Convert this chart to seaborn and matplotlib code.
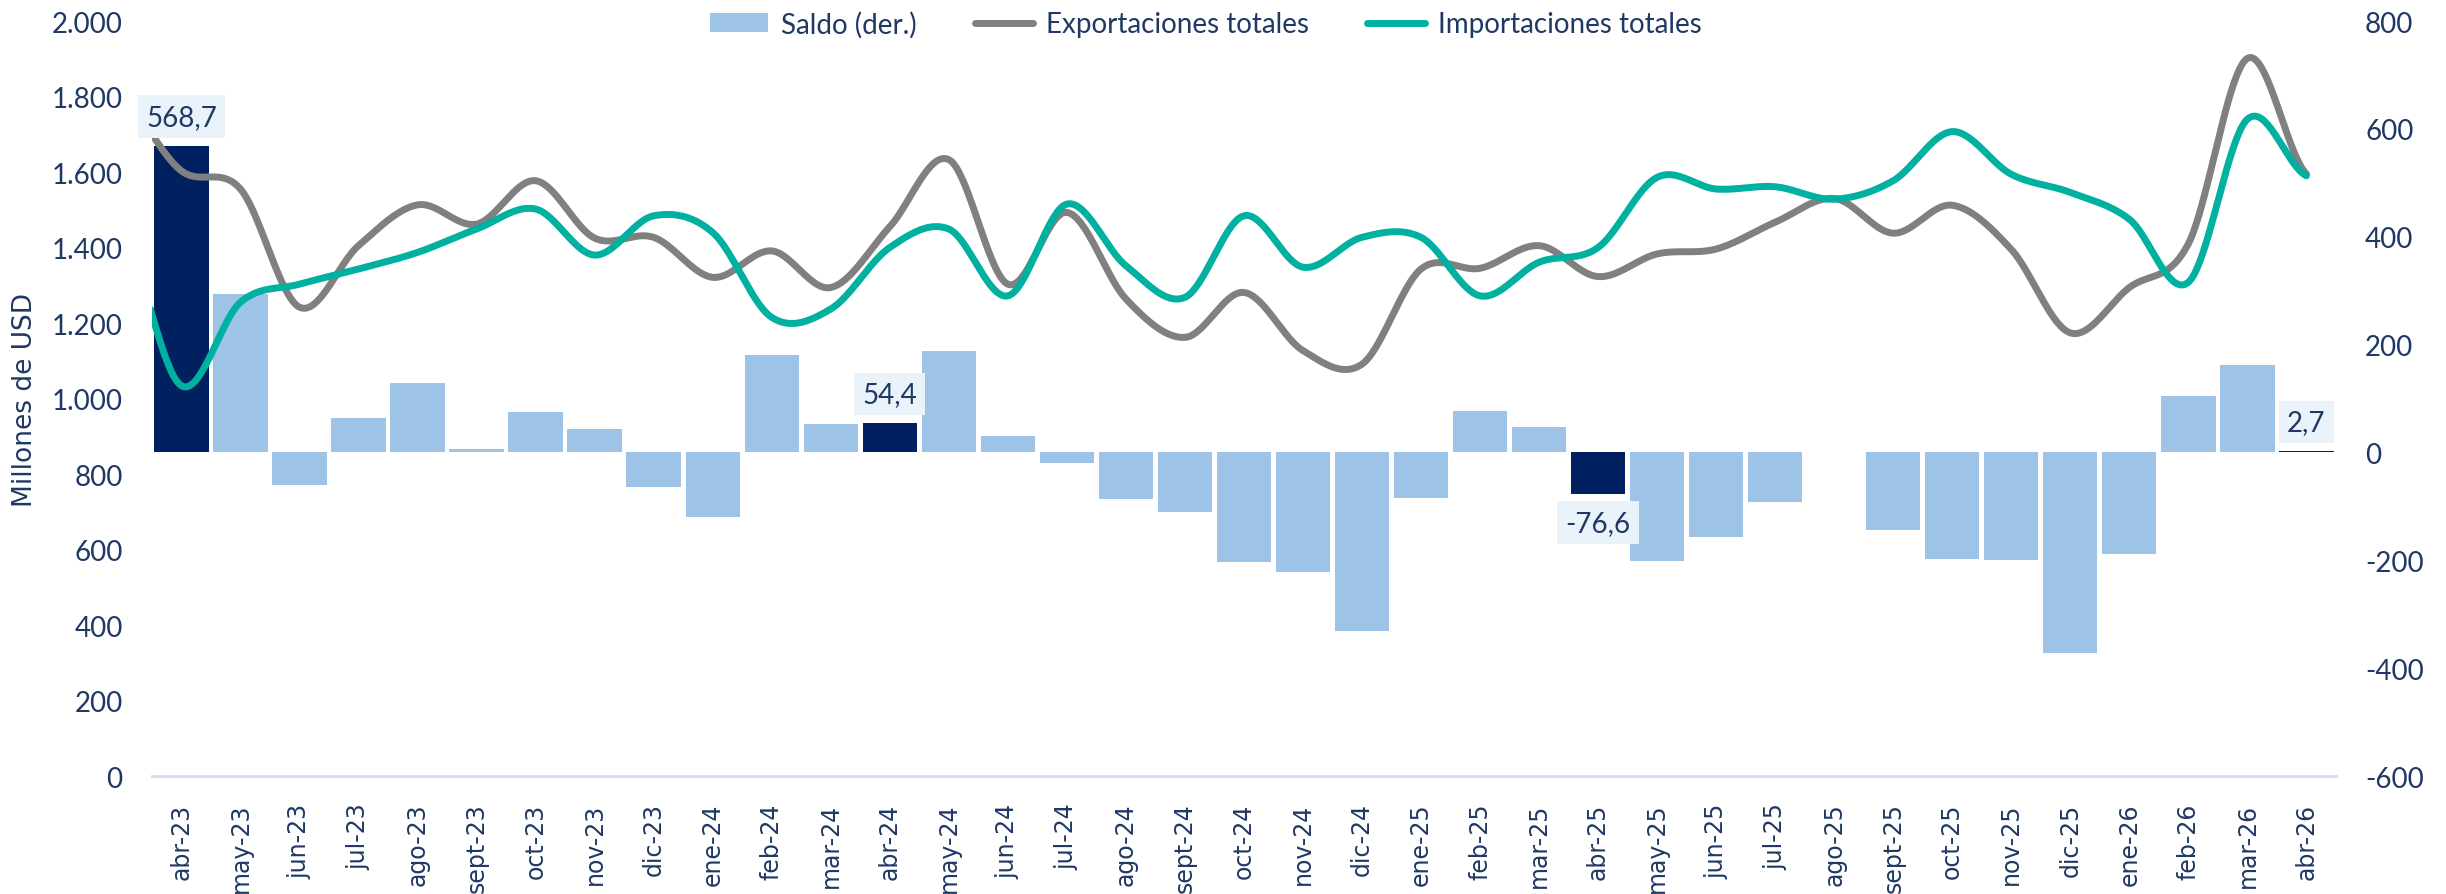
import numpy as np
import pandas as pd
import matplotlib
matplotlib.use("Agg")
import matplotlib.pyplot as plt
from matplotlib.lines import Line2D
from matplotlib.patches import Patch
from matplotlib.ticker import FuncFormatter, MultipleLocator
import seaborn as sns

sns.set_style("white")
plt.rcParams["font.family"] = ["Lato", "DejaVu Sans"]

meses = [
	"abr-23", "may-23", "jun-23", "jul-23", "ago-23", "sept-23", "oct-23", "nov-23", "dic-23",
	"ene-24", "feb-24", "mar-24", "abr-24", "may-24", "jun-24", "jul-24", "ago-24", "sept-24",
	"oct-24", "nov-24", "dic-24", "ene-25", "feb-25", "mar-25", "abr-25", "may-25", "jun-25",
	"jul-25", "ago-25", "sept-25", "oct-25", "nov-25", "dic-25", "ene-26", "feb-26", "mar-26",
	"abr-26",
]
saldo = [
	568.7, 293, -60, 63, 128, 7, 75, 44, -64,
	-119, 180, 52, 54.4, 189, 31, -19, -86, -111,
	-204, -221, -331, -85, 76, 48, -76.6, -202, -157,
	-91, 1, -143, -197, -199, -372, -188, 104, 163,
	2.7,
]
exportaciones = [
	1603, 1555, 1242, 1405, 1513, 1462, 1577, 1425, 1427,
	1321, 1391, 1294, 1455, 1633, 1303, 1493, 1264, 1162,
	1281, 1127, 1091, 1343, 1345, 1405, 1323, 1383, 1396,
	1467, 1530, 1438, 1512, 1395, 1174, 1294, 1410, 1901,
	1595,
]
importaciones = [
	1034, 1255, 1303, 1343, 1387, 1449, 1502, 1380, 1484,
	1440, 1215, 1237, 1400, 1449, 1272, 1515, 1352, 1268,
	1484, 1348, 1427, 1427, 1272, 1361, 1400, 1586, 1555,
	1561, 1528, 1577, 1707, 1594, 1546, 1475, 1308, 1740,
	1590,
]
# mar-23 queda fuera del rango, solo marca por donde entran las curvas
export_mar23 = 1790
import_mar23 = 1440

destacados = ["abr-23", "abr-24", "abr-25", "abr-26"]

NAVY = "#002060"
CELESTE = "#9DC3E6"
GRIS = "#808080"
TEAL = "#00B0A0"
TEXTO = "#1F3864"
CAJA = "#EAF2FA"
EJE = "#D3DDF0"


def suavizar(y, pasos=40):
	# linea suavizada tipo Excel (Catmull-Rom)
	y = np.asarray(y, dtype=float)
	ext = np.concatenate([[y[0]], y, [y[-1]]])
	t = np.linspace(0, 1, pasos, endpoint=False)
	xs, ys = [], []
	for i in range(len(y) - 1):
		p0, p1, p2, p3 = ext[i:i + 4]
		m1 = (p2 - p0) / 2
		m2 = (p3 - p1) / 2
		h00 = 2 * t**3 - 3 * t**2 + 1
		h10 = t**3 - 2 * t**2 + t
		h01 = -2 * t**3 + 3 * t**2
		h11 = t**3 - t**2
		ys.append(h00 * p1 + h10 * m1 + h01 * p2 + h11 * m2)
		xs.append(i + t)
	xs.append([len(y) - 1])
	ys.append([y[-1]])
	return np.concatenate(xs), np.concatenate(ys)


df = pd.DataFrame({"mes": meses, "saldo": saldo})
colores = [NAVY if m in destacados else CELESTE for m in meses]

fig = plt.figure(figsize=(24.46, 8.95), dpi=100)
ax = fig.add_axes([0.0621, 0.1318, 0.8929, 0.8436])

sns.barplot(
	data=df, x="mes", y="saldo", hue="mes", palette=colores, legend=False,
	width=0.92, saturation=1, linewidth=0, ax=ax
)

ax2 = ax.twinx()
ax.yaxis.tick_right()
ax.yaxis.set_label_position("right")
ax2.yaxis.tick_left()
ax2.yaxis.set_label_position("left")

for serie, previo, color in [
	(exportaciones, export_mar23, GRIS),
	(importaciones, import_mar23, TEAL),
]:
	xs, ys = suavizar([previo] + serie)
	sns.lineplot(
		x=xs - 1, y=ys, sort=False, estimator=None, color=color, linewidth=5,
		solid_capstyle="round", ax=ax2
	)

ax.set_xlim(-0.5, len(meses) - 0.5)
ax.set_ylim(-600, 800)
ax2.set_ylim(0, 2000)

ax.yaxis.set_major_locator(MultipleLocator(200))
ax2.yaxis.set_major_locator(MultipleLocator(200))
ax.yaxis.set_major_formatter(FuncFormatter(lambda v, p: f"{int(round(v))}"))
ax2.yaxis.set_major_formatter(FuncFormatter(lambda v, p: f"{int(round(v)):,}".replace(",", ".")))

for a in (ax, ax2):
	for s in a.spines.values():
		s.set_visible(False)
	a.set_xlabel("")
	a.set_ylabel("")
ax.spines["bottom"].set_visible(True)
ax.spines["bottom"].set_color(EJE)
ax.spines["bottom"].set_linewidth(2)

ax.set_xticks(range(len(meses)))
ax.set_xticklabels(meses, rotation=90, fontfamily="DejaVu Sans", fontsize=17, color=TEXTO)
ax.set_xticks(np.arange(-0.5, len(meses), 1), minor=True)
ax.tick_params(axis="x", which="major", length=0, pad=19)
ax.tick_params(axis="x", which="minor", length=10, width=1.5, color=EJE)
ax.tick_params(axis="y", length=0, pad=21, labelsize=20, labelcolor=TEXTO)
ax2.tick_params(axis="y", length=0, pad=21, labelsize=20, labelcolor=TEXTO)

ax2.set_ylabel("Millones de USD", fontfamily="DejaVu Sans", fontsize=19, color=TEXTO, labelpad=10)

# etiquetas de los meses destacados
for m in destacados:
	i = meses.index(m)
	v = saldo[i]
	txt = f"{v:.1f}".replace(".", ",")
	ax2.annotate(
		txt, xy=(i, v), xycoords=ax.transData,
		xytext=(0, 11.5 if v >= 0 else -11.5), textcoords="offset points",
		ha="center", va="bottom" if v >= 0 else "top",
		fontsize=20, color=TEXTO, zorder=10,
		bbox=dict(boxstyle="square,pad=0.3", fc=CAJA, ec="none"),
	)

handles = [
	Patch(facecolor=CELESTE, edgecolor="none", label="Saldo (der.)"),
	Line2D([], [], color=GRIS, lw=5, solid_capstyle="round", label="Exportaciones totales"),
	Line2D([], [], color=TEAL, lw=5, solid_capstyle="round", label="Importaciones totales"),
]
leg = fig.legend(
	handles=handles, loc="center", bbox_to_anchor=(0.493, 0.972), ncol=3, frameon=False,
	fontsize=20, handlelength=2.1, handletextpad=0.45, columnspacing=2.1
)
for t in leg.get_texts():
	t.set_color(TEXTO)

fig.savefig("out.png", dpi=100)
plt.close(fig)
